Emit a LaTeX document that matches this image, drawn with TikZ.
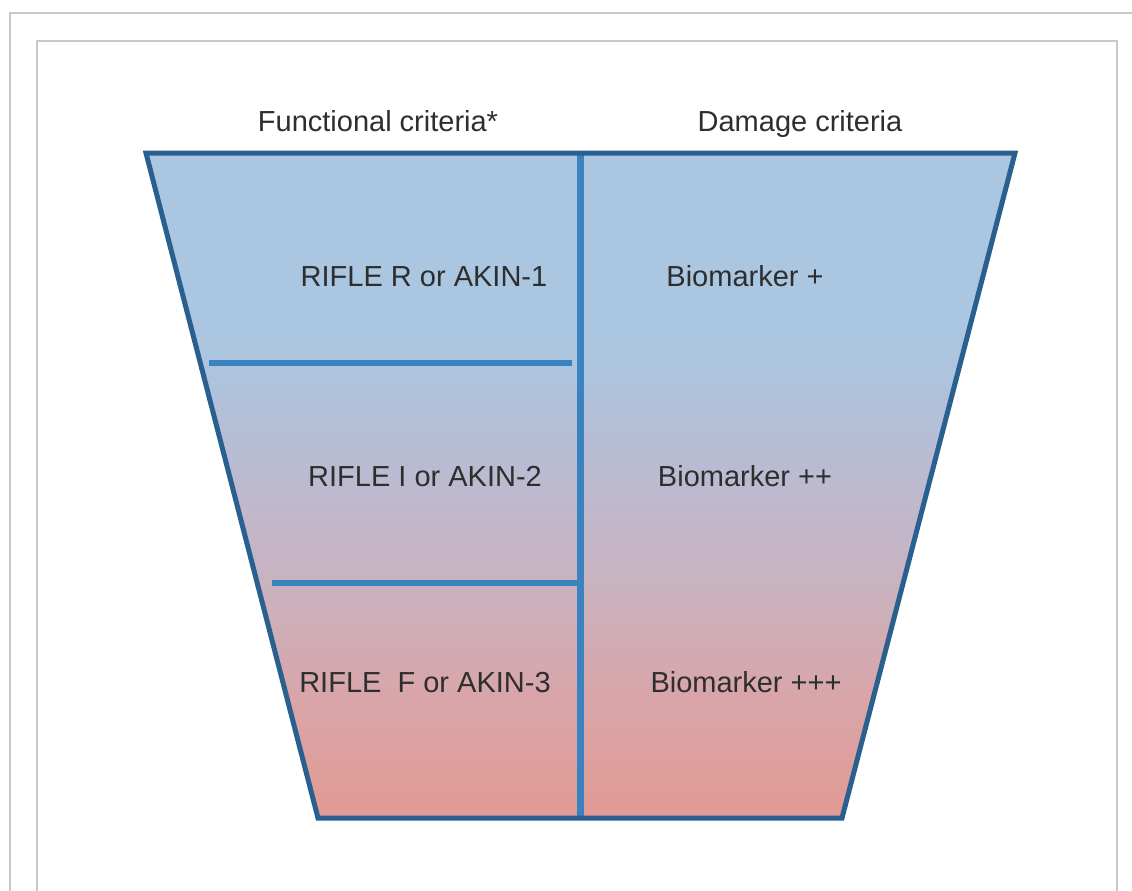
\documentclass[tikz,border=0pt]{standalone}
\usepackage{fontspec}
\setmainfont{Liberation Sans}
\definecolor{frameblue}{HTML}{2A6090}
\definecolor{lineblue}{HTML}{3B82C0}
\definecolor{topblue}{HTML}{ABC6E1}
\definecolor{midblue}{HTML}{AEC3DC}
\definecolor{midlilac}{HTML}{BCBAD0}
\definecolor{midmauve}{HTML}{C8B3C0}
\definecolor{lowpink}{HTML}{D9A5A8}
\definecolor{botpink}{HTML}{E19B93}
\definecolor{boxgray}{HTML}{C8C8C8}
\definecolor{textgray}{HTML}{2E2E2E}
\pgfdeclareverticalshading{funnelshade}{100bp}{color(0bp)=(botpink); color(25bp)=(botpink);
  color(33.9bp)=(lowpink); color(42.9bp)=(midmauve); color(50.4bp)=(midlilac);
  color(57.9bp)=(midblue); color(61.7bp)=(topblue); color(100bp)=(topblue)}
\tikzset{
  crit/.style={anchor=base,text=textgray,font=\fontsize{29}{34}\selectfont,inner sep=0pt},
  divider/.style={lineblue,line width=6.5pt},
}
\begin{document}
\begin{tikzpicture}[x=1pt,y=-1pt]
  \useasboundingbox (0,0) rectangle (1132,891);
  % frames
  \draw [boxgray,line width=2pt] (10,891) -- (10,13) -- (1132,13);
  \draw [boxgray,line width=1.5pt] (37,891) -- (37,41) -- (1117,41) -- (1117,891);

  \coordinate (tl) at (146,153); \coordinate (tr) at (1015,153);
  \coordinate (br) at (842,818); \coordinate (bl) at (318,818);
  \coordinate (mt) at (580,153); \coordinate (mb) at (580,818);

  \shade [shading=funnelshade] (tl) -- (tr) -- (br) -- (bl) -- cycle;
  \draw [divider] (209,363) -- (572,363);
  \draw [divider] (272,583) -- (mt |- 0,583);
  \draw [divider,line width=7pt] (mt) -- (mb);
  \draw [frameblue,line width=5pt,line join=miter] (tl) -- (tr) -- (br) -- (bl) -- cycle;

  \node [crit] (func) at (378,131) {Functional criteria*};
  \node [crit] (dmg) at (800,131) {Damage criteria};
  \node [crit] (rifr) at (424,286) {RIFLE R or AKIN-1};
  \node [crit] (bio1) at (745,286) {Biomarker +};
  \node [crit] (rifi) at (425,486) {RIFLE I or AKIN-2};
  \node [crit] (bio2) at (745,486) {Biomarker ++};
  \node [crit] (riff) at (425,692) {RIFLE\ \ F or AKIN-3};
  \node [crit] (bio3) at (746,692) {Biomarker +++};
\end{tikzpicture}
\end{document}
